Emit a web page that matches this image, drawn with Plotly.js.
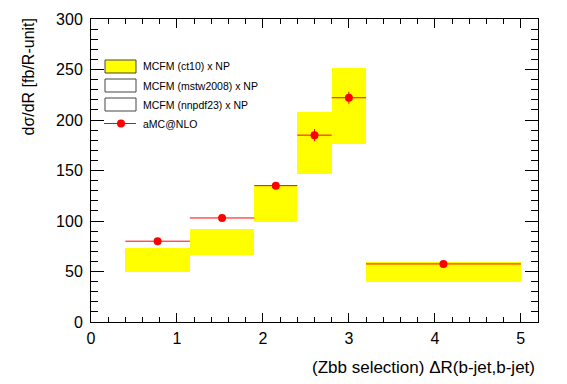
<!DOCTYPE html>
<html><head><meta charset="utf-8">
<script src="https://cdn.plot.ly/plotly-3.0.1.min.js"></script>
<style>html,body{margin:0;padding:0;background:#fff;}#chart{width:567px;height:384px;}</style>
</head><body><div id="chart"></div>
<script>
// Bin edges of Delta R(b-jet,b-jet)
const binLow  = [0.4, 1.15, 1.9, 2.4, 2.8, 3.2];
const binHigh = [1.15, 1.9, 2.4, 2.8, 3.2, 5.0];
// MCFM (ct10) x NP band (lower / upper edge)
const mcfmLow  = [50, 66, 99, 147, 176, 40];
const mcfmHigh = [73, 92, 136, 208, 251, 59];
// aMC@NLO prediction
const amcVal = [80, 103, 135, 185, 222, 57.5];
const amcErr = [2, 2, 3, 6, 6, 2];
// Legend labels
const legendLabels = ["MCFM (ct10) x NP", "MCFM (mstw2008) x NP", "MCFM (nnpdf23) x NP", "aMC@NLO"];

const centers = binLow.map((l,i)=>(l+binHigh[i])/2);
const widths = binLow.map((l,i)=>binHigh[i]-l);
const halfW = widths.map(w=>w/2);

const FONT = "Liberation Sans, Arial, Helvetica, sans-serif";

const band = {
  type:'bar', x:centers, y:mcfmHigh.map((h,i)=>h-mcfmLow[i]), base:mcfmLow, width:widths,
  marker:{color:'#ffff00', line:{width:0}}, showlegend:false, hoverinfo:'skip'
};
const amc = {
  type:'scatter', mode:'markers', x:centers, y:amcVal,
  error_x:{type:'data', array:halfW, color:'#ff0000', thickness:1, width:0},
  error_y:{type:'data', array:amcErr, color:'#ff0000', thickness:1, width:0},
  marker:{color:'#ff0000', size:8}, showlegend:false
};

// pixel -> paper helpers (plot area: x 91..538, y 19..322)
const PX0=91, PW=447, PY0=19, PH=303;
const px = v=>(v-PX0)/PW;
const py = v=>(PY0+PH-v)/PH;

const shapes=[], annotations=[];
const legY=[66.5, 85.5, 104.5, 123.5];
const fills=['#ffff00','#ffffff','#ffffff'];
for(let i=0;i<3;i++){
  shapes.push({type:'rect', xref:'paper', yref:'paper', x0:px(105), x1:px(136), y0:py(legY[i]-6.5), y1:py(legY[i]+6.5),
    fillcolor:fills[i], line:{color:'#444', width:1}});
}
shapes.push({type:'line', xref:'paper', yref:'paper', x0:px(104), x1:px(136), y0:py(legY[3]), y1:py(legY[3]), line:{color:'#ff0000', width:1}});
shapes.push({type:'circle', xref:'paper', yref:'paper', x0:px(117), x1:px(125), y0:py(legY[3]-4), y1:py(legY[3]+4), fillcolor:'#ff0000', line:{color:'#ff0000', width:0}});
for(let i=0;i<4;i++){
  annotations.push({xref:'paper', yref:'paper', x:px(141), y:py(legY[i]), xanchor:'left', yanchor:'middle',
    text:legendLabels[i], showarrow:false, font:{family:FONT, size:10.5, color:'#000'}});
}
annotations.push({xref:'paper', yref:'paper', x:px(28), y:py(77.5), xanchor:'center', yanchor:'middle', textangle:-90,
  text:'dσ/dR [fb/R-unit]', showarrow:false, font:{family:FONT, size:16, color:'#000'}});
annotations.push({xref:'paper', yref:'paper', x:px(537), y:py(367), xanchor:'right', yanchor:'middle',
  text:'(Zbb selection) ΔR(b-jet,b-jet)', showarrow:false, font:{family:FONT, size:17, color:'#000'}});

const layout = {
  width:567, height:384, margin:{l:91, r:29, t:19, b:62},
  paper_bgcolor:'#fff', plot_bgcolor:'#fff', showlegend:false,
  font:{family:FONT, color:'#000'},
  xaxis:{range:[0,5.2], dtick:1, tick0:0, ticks:'inside', ticklen:9, tickcolor:'#000', tickwidth:1,
    showline:true, linecolor:'#000', linewidth:1, mirror:'allticks', showgrid:false, zeroline:false,
    tickfont:{family:FONT, size:16, color:'#000'}, ticklabelstandoff:2,
    minor:{dtick:0.2, ticks:'inside', ticklen:5, tickcolor:'#000', tickwidth:1, showgrid:false}},
  yaxis:{range:[0,300], dtick:50, tick0:0, ticks:'inside', ticklen:13, tickcolor:'#000', tickwidth:1,
    showline:true, linecolor:'#000', linewidth:1, mirror:'allticks', showgrid:false, zeroline:false,
    tickfont:{family:FONT, size:16, color:'#000'}, ticklabelstandoff:4,
    minor:{dtick:10, ticks:'inside', ticklen:7, tickcolor:'#000', tickwidth:1, showgrid:false}},
  shapes:shapes, annotations:annotations, bargap:0
};
Plotly.newPlot('chart',[band, amc],layout,{displayModeBar:false, staticPlot:true});
</script></body></html>
